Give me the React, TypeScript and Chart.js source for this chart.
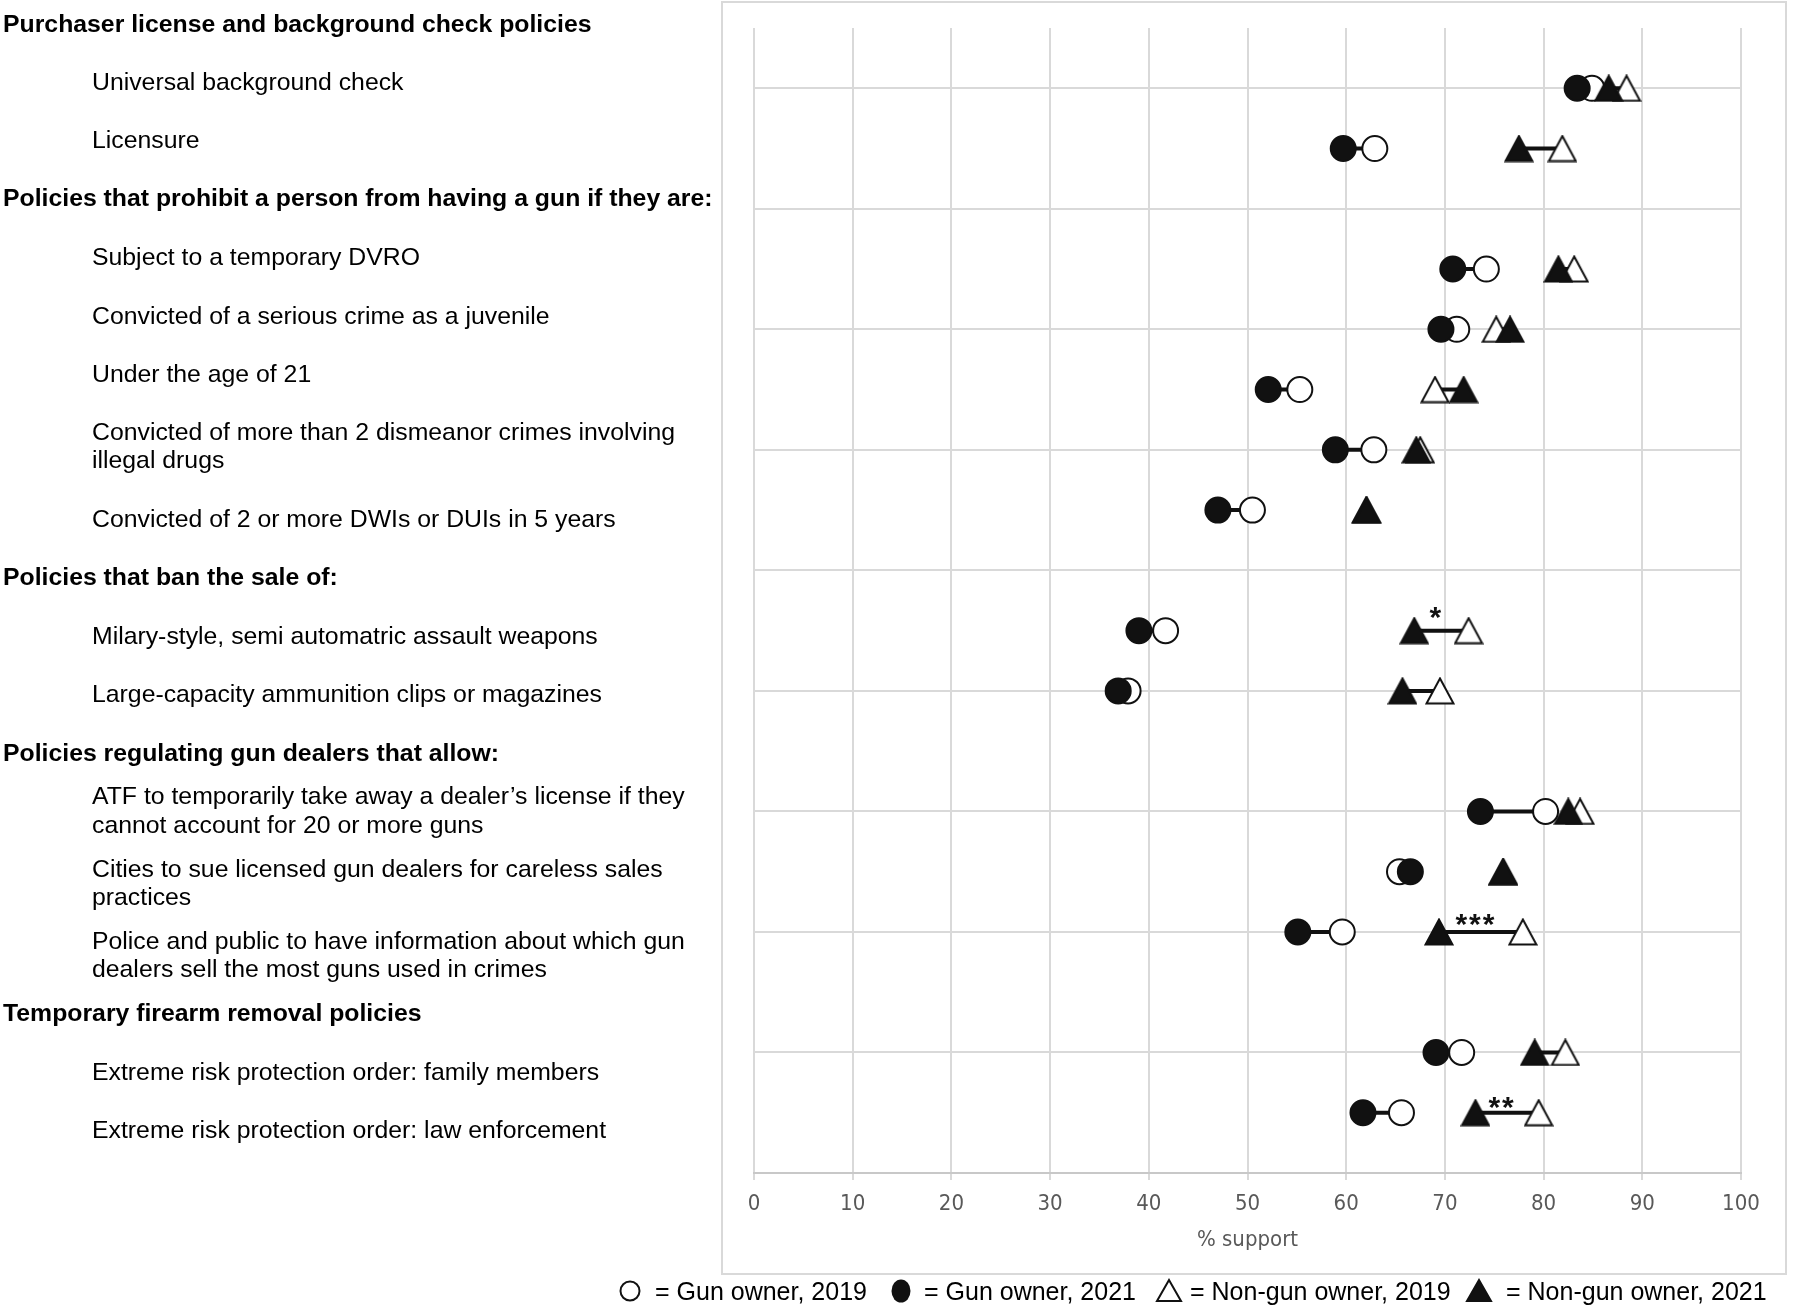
import React, { useEffect, useRef } from 'react';
import { Chart, registerables } from 'chart.js';

Chart.register(...registerables);

// ---------------- data ----------------
const sectionTitles = [
  'Purchaser license and background check policies',
  'Policies that prohibit a person from having a gun if they are:',
  'Policies that ban the sale of:',
  'Policies regulating gun dealers that allow:',
  'Temporary firearm removal policies',
];

const policies = [
  'Universal background check',
  'Licensure',
  'Subject to a temporary DVRO',
  'Convicted of a serious crime as a juvenile',
  'Under the age of 21',
  'Convicted of more than 2 dismeanor crimes involving illegal drugs',
  'Convicted of 2 or more DWIs or DUIs in 5 years',
  'Milary-style, semi automatric assault weapons',
  'Large-capacity ammunition clips or magazines',
  'ATF to temporarily take away a dealer\u2019s license if they cannot account for 20 or more guns',
  'Cities to sue licensed gun dealers for careless sales practices',
  'Police and public to have information about which gun dealers sell the most guns used in crimes',
  'Extreme risk protection order: family members',
  'Extreme risk protection order: law enforcement',
];

const policySection = [0, 0, 1, 1, 1, 1, 1, 2, 2, 3, 3, 3, 4, 4];

const gunOwner2019 = [84.9, 62.9, 74.2, 71.2, 55.3, 62.8, 50.5, 41.7, 37.9, 80.2, 65.4, 59.6, 71.7, 65.6];
const gunOwner2021 = [83.4, 59.7, 70.8, 69.6, 52.1, 58.9, 47.0, 39.0, 36.9, 73.6, 66.5, 55.1, 69.1, 61.7];
const nonGunOwner2019 = [88.4, 81.9, 83.1, 75.2, 69.0, 67.5, 62.0, 72.4, 69.5, 83.7, 75.9, 77.9, 82.2, 79.5];
const nonGunOwner2021 = [86.6, 77.5, 81.5, 76.6, 71.9, 67.1, 62.1, 66.9, 65.7, 82.5, 75.9, 69.4, 79.1, 73.1];

const significance = ['', '', '', '', '', '', '', '*', '', '', '', '***', '', '**'];

const xTickValues = [0, 10, 20, 30, 40, 50, 60, 70, 80, 90, 100];
const xAxisTitle = '% support';

const legendLabels = [
  '= Gun owner, 2019',
  '= Gun owner, 2021',
  '= Non-gun owner, 2019',
  '= Non-gun owner, 2021',
];

// ---------------- derived row positions ----------------
const rowOf: number[] = [];
{
  let r = -1;
  policySection.forEach((s, i) => {
    r += i > 0 && s !== policySection[i - 1] ? 2 : 1;
    rowOf.push(r);
  });
}
const yMax = rowOf[rowOf.length - 1] + 1;
const gridRows: number[] = [];
for (let v = 0; v <= yMax; v += 2) gridRows.push(v);

// left column: interleave headers and policies
type LeftItem = { text: string; header: boolean };
const leftItems: LeftItem[] = [];
policySection.forEach((s, i) => {
  if (i === 0 || s !== policySection[i - 1]) leftItems.push({ text: sectionTitles[s], header: true });
  leftItems.push({ text: policies[i], header: false });
});

// ---------------- layout / style ----------------
const INK = '#111111';
const GRID = '#d9d9d9';
const LABEL_FONT = "'Liberation Sans', Arial, Helvetica, sans-serif";
const AXIS_FONT = "'Liberation Sans Narrow', 'DejaVu Sans Condensed', 'Liberation Sans', sans-serif";
const leftLabelY = [24, 82.5, 140, 198.6, 257.5, 316, 374.5, 432, 519, 577.4, 636, 694.5, 753, 796.7, 869, 941, 1013.7, 1072, 1130.8];
const LINE_H = 28.7;
const legendSymbolX = [630, 901, 1169, 1479];
const legendTextX = [655, 924, 1190, 1506];
const LEGEND_Y = 1291;

function makeTriangle(filled: boolean): HTMLCanvasElement {
  const c = document.createElement('canvas');
  c.width = 30;
  c.height = 28;
  const g = c.getContext('2d')!;
  g.beginPath();
  g.moveTo(15, 1.5);
  g.lineTo(28.5, 26.5);
  g.lineTo(1.5, 26.5);
  g.closePath();
  g.fillStyle = filled ? INK : '#ffffff';
  g.fill();
  g.lineWidth = 2;
  g.lineJoin = 'miter';
  g.strokeStyle = INK;
  g.stroke();
  return c;
}

function pairSegments(a: number[], b: number[]) {
  const pts: any[] = [];
  a.forEach((v, i) => {
    pts.push({ x: v, y: rowOf[i] }, { x: b[i], y: rowOf[i] }, { x: null, y: null });
  });
  return pts;
}

function LegendSymbol({ kind }: { kind: number }) {
  if (kind === 0)
    return (
      <svg width="28" height="28" viewBox="0 0 28 28">
        <circle cx="14" cy="14" r="9.5" fill="#fff" stroke={INK} strokeWidth="2" />
      </svg>
    );
  if (kind === 1)
    return (
      <svg width="28" height="28" viewBox="0 0 28 28">
        <ellipse cx="14" cy="14" rx="9.5" ry="11.5" fill={INK} />
      </svg>
    );
  return (
    <svg width="28" height="28" viewBox="0 0 28 28">
      <polygon
        points="14,3 26,24 2,24"
        fill={kind === 2 ? '#fff' : INK}
        stroke={INK}
        strokeWidth="2"
      />
    </svg>
  );
}

export default function App() {
  const canvasRef = useRef<HTMLCanvasElement>(null);

  useEffect(() => {
    const canvas = canvasRef.current;
    if (!canvas) return;
    const openTri = makeTriangle(false);
    const fullTri = makeTriangle(true);

    const decor = {
      id: 'decor',
      beforeDraw(chart: any) {
        const ctx = chart.ctx;
        ctx.save();
        ctx.strokeStyle = GRID;
        ctx.lineWidth = 2;
        ctx.strokeRect(722, 2, 1064, 1272);
        ctx.restore();
      },
      afterDatasetsDraw(chart: any) {
        const ctx = chart.ctx;
        const xs = chart.scales.x;
        const ys = chart.scales.y;
        ctx.save();
        ctx.fillStyle = INK;
        ctx.font = `bold 30px ${LABEL_FONT}`;
        ctx.textAlign = 'center';
        ctx.textBaseline = 'alphabetic';
        try {
          (ctx as any).letterSpacing = '2px';
        } catch (e) {}
        significance.forEach((mark, i) => {
          if (!mark) return;
          const mid =
            (xs.getPixelForValue(nonGunOwner2019[i]) + xs.getPixelForValue(nonGunOwner2021[i])) / 2 - 5;
          const py = ys.getPixelForValue(rowOf[i]);
          const lift = mark.length === 1 ? 6 : mark.length === 2 ? -2 : 0;
          ctx.fillText(mark, mid, py + 2 - lift);
        });
        ctx.restore();
      },
    };

    const pointBase = {
      radius: 12.5,
      hoverRadius: 12.5,
      borderWidth: 2,
      borderColor: INK,
      hoverBorderWidth: 2,
    };

    const chart = new Chart(canvas, {
      type: 'scatter',
      data: {
        datasets: [
          {
            type: 'line',
            label: 'gun pair',
            data: pairSegments(gunOwner2019, gunOwner2021),
            borderColor: INK,
            borderWidth: 4,
            pointRadius: 0,
            pointHoverRadius: 0,
            spanGaps: false,
            fill: false,
            order: 3,
          } as any,
          {
            type: 'line',
            label: 'non-gun pair',
            data: pairSegments(nonGunOwner2019, nonGunOwner2021),
            borderColor: INK,
            borderWidth: 4,
            pointRadius: 0,
            pointHoverRadius: 0,
            spanGaps: false,
            fill: false,
            order: 3,
          } as any,
          {
            label: legendLabels[0],
            data: gunOwner2019.map((v, i) => ({ x: v, y: rowOf[i] })),
            pointStyle: 'circle',
            backgroundColor: '#ffffff',
            ...pointBase,
            order: 2,
          },
          {
            label: legendLabels[2],
            data: nonGunOwner2019.map((v, i) => ({ x: v, y: rowOf[i] })),
            pointStyle: openTri,
            backgroundColor: '#ffffff',
            ...pointBase,
            order: 2,
          },
          {
            label: legendLabels[1],
            data: gunOwner2021.map((v, i) => ({ x: v, y: rowOf[i] })),
            pointStyle: 'circle',
            backgroundColor: INK,
            ...pointBase,
            order: 1,
          },
          {
            label: legendLabels[3],
            data: nonGunOwner2021.map((v, i) => ({ x: v, y: rowOf[i] })),
            pointStyle: fullTri,
            backgroundColor: INK,
            ...pointBase,
            order: 1,
          },
        ],
      },
      options: {
        responsive: false,
        animation: false,
        events: [],
        layout: { padding: { left: 754, right: 59, top: 28, bottom: 37 } },
        plugins: {
          legend: { display: false },
          tooltip: { enabled: false },
        },
        scales: {
          x: {
            type: 'linear',
            min: 0,
            max: 100,
            afterBuildTicks: (s: any) => {
              s.ticks = xTickValues.map((v) => ({ value: v }));
            },
            afterFit: (s: any) => {
              s.height = 100;
            },
            grid: { color: GRID, lineWidth: 2, tickLength: 7, drawTicks: true },
            border: { display: true, color: '#c8c8c8', width: 2 },
            ticks: {
              color: '#595959',
              font: { family: AXIS_FONT, size: 22 },
              padding: 11,
              maxRotation: 0,
            },
            title: {
              display: true,
              text: xAxisTitle,
              color: '#595959',
              font: { family: AXIS_FONT, size: 22 },
              padding: { top: 0, bottom: 20 },
            },
          },
          y: {
            type: 'linear',
            reverse: true,
            min: -1,
            max: yMax,
            afterBuildTicks: (s: any) => {
              s.ticks = gridRows.map((v) => ({ value: v }));
            },
            afterFit: (s: any) => {
              s.width = 0;
            },
            grid: { color: GRID, lineWidth: 2, drawTicks: false },
            border: { display: false },
            ticks: { display: false },
          },
        },
      },
      plugins: [decor],
    });

    return () => chart.destroy();
  }, []);

  return (
    <div
      style={{
        position: 'absolute',
        left: 0,
        top: 0,
        width: 1800,
        height: 1310,
        background: '#ffffff',
        overflow: 'hidden',
        fontFamily: LABEL_FONT,
        color: '#000',
      }}
    >
      <canvas
        ref={canvasRef}
        width={1800}
        height={1310}
        style={{ position: 'absolute', left: 0, top: 0, width: 1800, height: 1310 }}
      />
      {leftItems.map((item, i) => (
        <div
          key={i}
          style={{
            position: 'absolute',
            left: item.header ? 3 : 92,
            top: leftLabelY[i] - LINE_H / 2,
            width: item.header ? 740 : 638,
            fontSize: 24.8,
            lineHeight: `${LINE_H}px`,
            fontWeight: item.header ? 'bold' : 'normal',
            whiteSpace: item.header ? 'nowrap' : 'normal',
          }}
        >
          {item.text}
        </div>
      ))}
      {legendLabels.map((t, i) => (
        <React.Fragment key={i}>
          <div style={{ position: 'absolute', left: legendSymbolX[i] - 14, top: LEGEND_Y - 14, width: 28, height: 28 }}>
            <LegendSymbol kind={i} />
          </div>
          <div
            style={{
              position: 'absolute',
              left: legendTextX[i],
              top: LEGEND_Y - 15,
              height: 30,
              lineHeight: '30px',
              fontSize: 25,
              whiteSpace: 'nowrap',
            }}
          >
            {t}
          </div>
        </React.Fragment>
      ))}
    </div>
  );
}
